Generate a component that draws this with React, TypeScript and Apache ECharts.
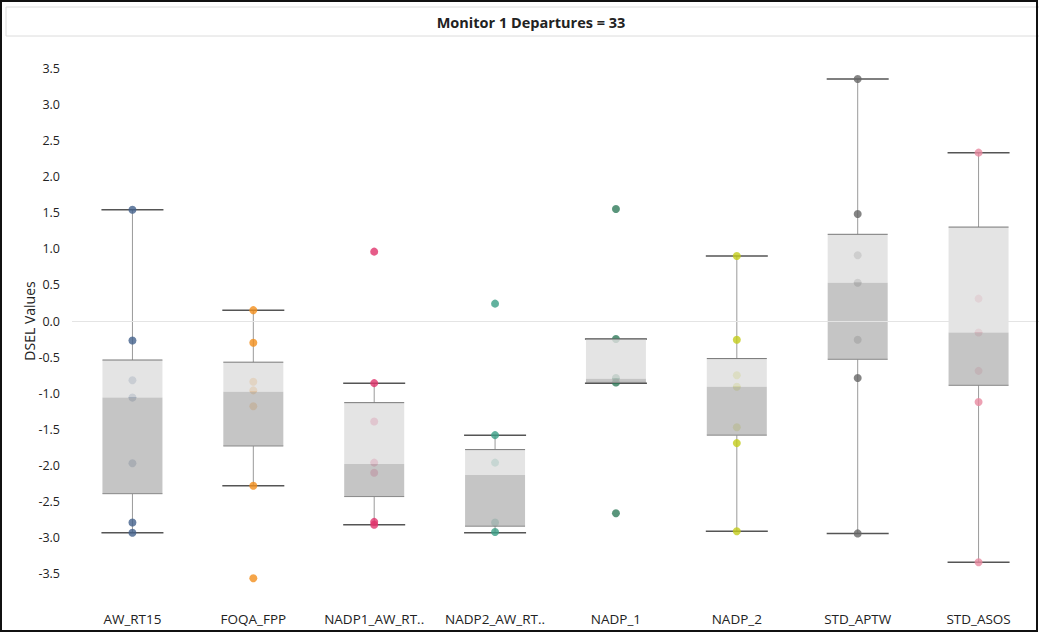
import React, { useEffect, useRef } from "react";
import * as echarts from "echarts";

const categories = [
  "AW_RT15",
  "FOQA_FPP",
  "NADP1_AW_RT..",
  "NADP2_AW_RT..",
  "NADP_1",
  "NADP_2",
  "STD_APTW",
  "STD_ASOS",
];

// [lowerWhisker, Q1, median, Q3, upperWhisker]
const boxStats = [
  [-2.93, -2.39, -1.06, -0.54, 1.54],
  [-2.28, -1.73, -0.98, -0.57, 0.15],
  [-2.82, -2.43, -1.98, -1.13, -0.86],
  [-2.93, -2.84, -2.13, -1.78, -1.58],
  [-0.86, -0.85, -0.8, -0.25, -0.25],
  [-2.91, -1.58, -0.91, -0.52, 0.9],
  [-2.94, -0.53, 0.53, 1.2, 3.35],
  [-3.34, -0.89, -0.16, 1.3, 2.33],
];

const pointsAW_RT15 = [1.54, -0.27, -0.82, -1.06, -1.97, -2.79, -2.93];
const pointsFOQA_FPP = [0.15, -0.3, -0.84, -0.96, -1.18, -2.28, -3.56];
const pointsNADP1 = [0.96, -0.86, -1.39, -1.96, -2.1, -2.78, -2.82];
const pointsNADP2 = [0.24, -1.58, -1.96, -2.79, -2.92];
const pointsNADP_1 = [1.55, -0.25, -0.79, -0.85, -2.66];
const pointsNADP_2 = [0.9, -0.26, -0.75, -0.91, -1.47, -1.69, -2.91];
const pointsSTD_APTW = [3.35, 1.48, 0.91, 0.53, -0.26, -0.79, -2.94];
const pointsSTD_ASOS = [2.33, 0.31, -0.16, -0.69, -1.12, -3.34];

const pointSets = [
  pointsAW_RT15,
  pointsFOQA_FPP,
  pointsNADP1,
  pointsNADP2,
  pointsNADP_1,
  pointsNADP_2,
  pointsSTD_APTW,
  pointsSTD_ASOS,
];

const pointColors = [
  "#44618c",
  "#f28e1c",
  "#e0336c",
  "#3a9f86",
  "#2f7a5a",
  "#c3cc1a",
  "#666666",
  "#e98aa0",
];

const yTicks = { min: -4, max: 4, interval: 0.5 };

const FONT = "'Open Sans', 'Noto Sans', sans-serif";

export default function App() {
  const ref = useRef<HTMLDivElement>(null);

  useEffect(() => {
    document.body.style.margin = "0";
    if (!ref.current) return;
    const chart = echarts.init(ref.current, undefined, { renderer: "svg" });

    const boxData = boxStats.map((s, i) => [i, ...s]);
    const scatterData: any[] = [];
    pointSets.forEach((arr, i) => {
      arr.forEach((v) => {
        scatterData.push({ value: [i, v], itemStyle: { color: pointColors[i] } });
      });
    });

    const HALF = 30;
    const CAP = 31;

    const option: any = {
      animation: false,
      backgroundColor: "#ffffff",
      textStyle: { fontFamily: FONT },
      grid: { left: 72, top: 32, width: 979, height: 578 },
      xAxis: {
        type: "category",
        data: categories,
        boundaryGap: true,
        axisLine: { show: false },
        axisTick: { show: false },
        splitLine: { show: false },
        axisLabel: {
          color: "#222",
          fontSize: 13.5,
          fontFamily: FONT,
          margin: 2,
          interval: 0,
        },
      },
      yAxis: {
        type: "value",
        min: yTicks.min,
        max: yTicks.max,
        interval: yTicks.interval,
        name: "DSEL Values",
        nameLocation: "middle",
        nameRotate: 90,
        nameGap: 36,
        nameMoveOverlap: false,
        nameTextStyle: { color: "#222", fontSize: 14, fontFamily: FONT },
        axisLine: { show: false },
        axisTick: { show: false },
        splitLine: { show: false },
        axisLabel: {
          color: "#222",
          fontSize: 12.5,
          fontFamily: FONT,
          margin: 12,
          showMinLabel: false,
          showMaxLabel: false,
          formatter: (v: number) => v.toFixed(1),
        },
      },
      graphic: [
        {
          type: "rect",
          shape: { x: 6, y: 7, width: 1040, height: 29 },
          style: { fill: "#ffffff", stroke: "#dcdcdc", lineWidth: 1 },
          z: 10,
        },
        {
          type: "text",
          x: 531,
          y: 22,
          style: {
            text: "Monitor 1 Departures = 33",
            fontFamily: FONT,
            fontWeight: "bold",
            fontSize: 14.5,
            fill: "#222",
            align: "center",
            verticalAlign: "middle",
          },
          z: 11,
        },
        {
          type: "rect",
          shape: { x: 1, y: 1, width: 1036, height: 630 },
          style: { fill: "none", stroke: "#111", lineWidth: 2 },
          z: 12,
        },
      ],
      series: [
        {
          type: "custom",
          name: "whiskers",
          z: 1,
          encode: { x: 0, y: [1, 2, 3, 4, 5] },
          data: boxData,
          renderItem: (params: any, api: any) => {
            const x = api.value(0);
            const low = api.coord([x, api.value(1)]);
            const q1 = api.coord([x, api.value(2)]);
            const q3 = api.coord([x, api.value(4)]);
            const high = api.coord([x, api.value(5)]);
            return {
              type: "group",
              children: [
                {
                  type: "line",
                  shape: { x1: high[0], y1: high[1], x2: q3[0], y2: q3[1] },
                  style: { stroke: "#9a9a9a", lineWidth: 1 },
                },
                {
                  type: "line",
                  shape: { x1: q1[0], y1: q1[1], x2: low[0], y2: low[1] },
                  style: { stroke: "#9a9a9a", lineWidth: 1 },
                },
                {
                  type: "line",
                  shape: { x1: high[0] - CAP, y1: high[1], x2: high[0] + CAP, y2: high[1] },
                  style: { stroke: "#555", lineWidth: 1.5 },
                },
                {
                  type: "line",
                  shape: { x1: low[0] - CAP, y1: low[1], x2: low[0] + CAP, y2: low[1] },
                  style: { stroke: "#555", lineWidth: 1.5 },
                },
              ],
            };
          },
        },
        {
          type: "scatter",
          name: "points",
          z: 2,
          symbolSize: 8,
          data: scatterData,
          markLine: {
            silent: true,
            symbol: "none",
            label: { show: false },
            lineStyle: { color: "#e4e4e4", type: "solid", width: 1 },
            data: [{ yAxis: 0 }],
          },
        },
        {
          type: "custom",
          name: "boxes",
          z: 3,
          encode: { x: 0, y: [1, 2, 3, 4, 5] },
          data: boxData,
          renderItem: (params: any, api: any) => {
            const x = api.value(0);
            const q1 = api.coord([x, api.value(2)]);
            const med = api.coord([x, api.value(3)]);
            const q3 = api.coord([x, api.value(4)]);
            const cx = q1[0];
            return {
              type: "group",
              children: [
                {
                  type: "rect",
                  shape: { x: cx - HALF, y: q3[1], width: HALF * 2, height: med[1] - q3[1] },
                  style: { fill: "rgba(222,222,222,0.82)" },
                },
                {
                  type: "rect",
                  shape: { x: cx - HALF, y: med[1], width: HALF * 2, height: q1[1] - med[1] },
                  style: { fill: "rgba(184,184,184,0.82)" },
                },
                {
                  type: "line",
                  shape: { x1: cx - HALF, y1: q3[1], x2: cx + HALF, y2: q3[1] },
                  style: { stroke: "#777", lineWidth: 1 },
                },
                {
                  type: "line",
                  shape: { x1: cx - HALF, y1: q1[1], x2: cx + HALF, y2: q1[1] },
                  style: { stroke: "#888", lineWidth: 1 },
                },
              ],
            };
          },
        },
      ],
    };

    chart.setOption(option);
    return () => chart.dispose();
  }, []);

  return <div ref={ref} style={{ width: 1039, height: 633 }} />;
}
